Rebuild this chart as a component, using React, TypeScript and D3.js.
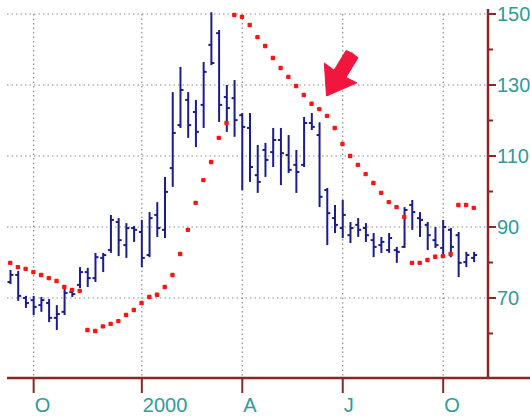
import * as d3 from "d3"

// weekly bars: high, low, open, close (index 0 = first visible week)
const highs = [77.9, 77.6, 70.6, 70.6, 70.3, 69.7, 68.0, 72.8, 72.8, 78.7, 78.5, 82.7, 82.7, 93.4, 92.5, 91.1, 90.3, 92.0, 94.2, 97.0,
  104.1, 128.0, 135.1, 128.0, 125.8, 136.5, 150.5, 145.5, 130.0, 131.4, 122.1, 122.1, 113.1, 113.7, 117.9, 117.9, 115.9, 111.7, 121.0, 122.1,
  119.5, 101.0, 96.2, 97.6, 91.4, 92.5, 91.1, 88.3, 87.2, 88.3, 84.4, 95.6, 97.6, 94.2, 91.4, 90.0, 92.0, 89.7, 88.6, 83.0, 83.0]
const lows = [73.9, 69.2, 67.2, 65.2, 66.1, 63.2, 61.0, 65.2, 70.3, 72.8, 73.1, 74.5, 77.3, 82.7, 81.8, 81.3, 85.8, 78.7, 81.5, 87.2,
  86.9, 101.3, 117.9, 115.1, 112.5, 117.9, 135.6, 119.6, 116.8, 115.4, 100.4, 102.7, 99.6, 104.1, 106.9, 101.8, 105.2, 99.6, 106.9, 117.3,
  95.6, 84.9, 88.3, 86.9, 85.5, 87.2, 85.8, 81.5, 82.7, 82.7, 79.9, 84.1, 89.2, 87.2, 83.5, 84.1, 81.5, 81.5, 75.9, 78.7, 80.1]
const opens = [74.5, 76.5, 70.0, 69.4, 68.0, 68.6, 64.4, 66.1, 71.7, 73.7, 77.3, 75.6, 81.3, 83.5, 91.4, 84.9, 89.7, 88.6, 82.1, 93.4,
  89.2, 106.6, 118.7, 125.8, 122.4, 124.4, 141.3, 144.6, 126.6, 126.3, 121.5, 117.9, 104.6, 111.7, 111.1, 114.5, 110.3, 107.5, 107.5, 119.3,
  115.9, 100.4, 92.5, 89.7, 87.7, 90.6, 89.7, 86.3, 84.9, 83.5, 83.5, 84.4, 96.2, 92.5, 90.6, 86.3, 84.1, 89.2, 87.7, 80.1, 81.3]
const closes = [76.5, 70.6, 68.6, 67.5, 69.4, 64.4, 65.5, 71.4, 71.1, 77.3, 75.6, 81.5, 82.1, 92.0, 86.3, 89.7, 89.2, 81.3, 92.5, 89.7,
  99.9, 116.5, 128.6, 118.7, 116.8, 133.7, 136.2, 124.4, 123.5, 120.1, 118.2, 106.9, 102.7, 108.9, 114.5, 110.8, 106.1, 105.5, 119.3, 118.2,
  98.5, 93.9, 90.6, 93.4, 89.7, 89.2, 87.7, 84.4, 85.8, 86.9, 83.0, 94.8, 94.2, 92.0, 87.7, 84.9, 90.0, 84.4, 79.9, 82.1, 82.1]

// parabolic SAR dots, one per week
const sar = [79.9, 78.7, 78.2, 77.3, 76.5, 75.6, 74.8, 73.1, 72.3, 72.0, 61.0, 60.7, 62.0, 62.7, 63.5, 65.2, 66.6, 68.6, 70.3, 70.9,
  73.1, 76.5, 82.4, 89.2, 96.8, 103.2, 108.3, 115.1, 119.3, 149.7, 149.2, 146.9, 143.5, 141.0, 137.6, 134.8, 132.3, 129.7, 127.2, 124.7,
  123.2, 121.3, 117.9, 113.4, 110.0, 107.5, 104.9, 102.4, 99.6, 97.0, 95.6, 92.8, 79.9, 79.9, 80.7, 81.6, 81.8, 82.4, 96.2, 96.2, 95.4]

const monthTicks = [3, 17, 30, 43, 56]
const monthLabels = ["O", "2000", "A", "J", "O"]
const priceTicks = [150, 130, 110, 90, 70]
const minorTicks = [140, 120, 100, 80, 60]

// arrow annotation: tip at week 40.9, price 126.9
const arrowTip = { week: 40.9, price: 126.9 }

const W = 530
const H = 417
const AXIS = "#8a2626"
const TEAL = "#2f9c98"
const BAR = "#1c1c8c"
const DOT = "#ff1414"

export default function App() {
  const x = d3.scaleLinear().domain([-0.45, 61.8]).range([7, 488])
  const y = d3.scaleLinear().domain([70, 150]).range([298, 14])
  const bottom = 378
  const right = 488
  const idx = d3.range(highs.length)

  // arrow polygon built around tip
  const tx = x(arrowTip.week)
  const ty = y(arrowTip.price)
  const ang = Math.atan2(-41, 25)
  const d = [-Math.cos(ang), -Math.sin(ang)]
  const p = [-d[1], d[0]]
  const pt = (a: number, b: number): [number, number] => [tx - d[0] * a + p[0] * b, ty - d[1] * a + p[1] * b]
  const arrowPts = [pt(0, 0), pt(27, 19), pt(26, 7), pt(49, 7), pt(50, 0), pt(49, -7), pt(26, -7), pt(27, -19)]
  const arrowPath = d3.line()(arrowPts) + "Z"

  return (
    <svg width={W} height={H} style={{ position: "absolute", left: 0, top: 0, background: "#fff" }}
      fontFamily="'Liberation Sans', Arial, sans-serif">
      {/* grid */}
      <g stroke="#8c8c8c" strokeWidth={1.2} strokeDasharray="1.5 3">
        {priceTicks.map((v) => (
          <line key={v} x1={7} x2={right} y1={y(v)} y2={y(v)} />
        ))}
        {monthTicks.map((m) => (
          <line key={m} x1={x(m)} x2={x(m)} y1={y(150)} y2={bottom} />
        ))}
      </g>

      {/* bars */}
      <g stroke={BAR} strokeWidth={2}>
        {idx.map((i) => (
          <g key={i}>
            <line x1={x(i)} x2={x(i)} y1={y(highs[i])} y2={y(lows[i])} />
            <line x1={x(i) - 3} x2={x(i)} y1={y(opens[i])} y2={y(opens[i])} />
            <line x1={x(i)} x2={x(i) + 3} y1={y(closes[i])} y2={y(closes[i])} />
          </g>
        ))}
      </g>

      {/* SAR */}
      <g fill={DOT}>
        {sar.map((v, i) => (
          <rect key={i} x={x(i) - 2.5} y={y(v) - 2.2} width={4.4} height={4.4} rx={1} />
        ))}
      </g>

      <path d={arrowPath} fill="#f2163f" strokeLinejoin="round" stroke="#f2163f" strokeWidth={1} />

      {/* axes */}
      <line x1={7} x2={W} y1={bottom} y2={bottom} stroke={AXIS} strokeWidth={2.5} />
      <line x1={right} x2={right} y1={9} y2={bottom} stroke={AXIS} strokeWidth={2.5} />
      {monthTicks.map((m, i) => (
        <g key={m}>
          <line x1={x(m)} x2={x(m)} y1={bottom} y2={bottom + 15} stroke={AXIS} strokeWidth={2} />
          <text x={x(m) + 1} y={412} fill={TEAL} fontSize={20}>{monthLabels[i]}</text>
        </g>
      ))}
      {priceTicks.map((v) => (
        <g key={v}>
          <line x1={right} x2={right + 8} y1={y(v)} y2={y(v)} stroke={AXIS} strokeWidth={2} />
          <text x={right + 9} y={y(v)} dy="0.36em" fill={TEAL} fontSize={20}>{v}</text>
        </g>
      ))}
      {minorTicks.map((v) => (
        <line key={v} x1={right} x2={right + 5} y1={y(v)} y2={y(v)} stroke={AXIS} strokeWidth={2} />
      ))}
    </svg>
  )
}
